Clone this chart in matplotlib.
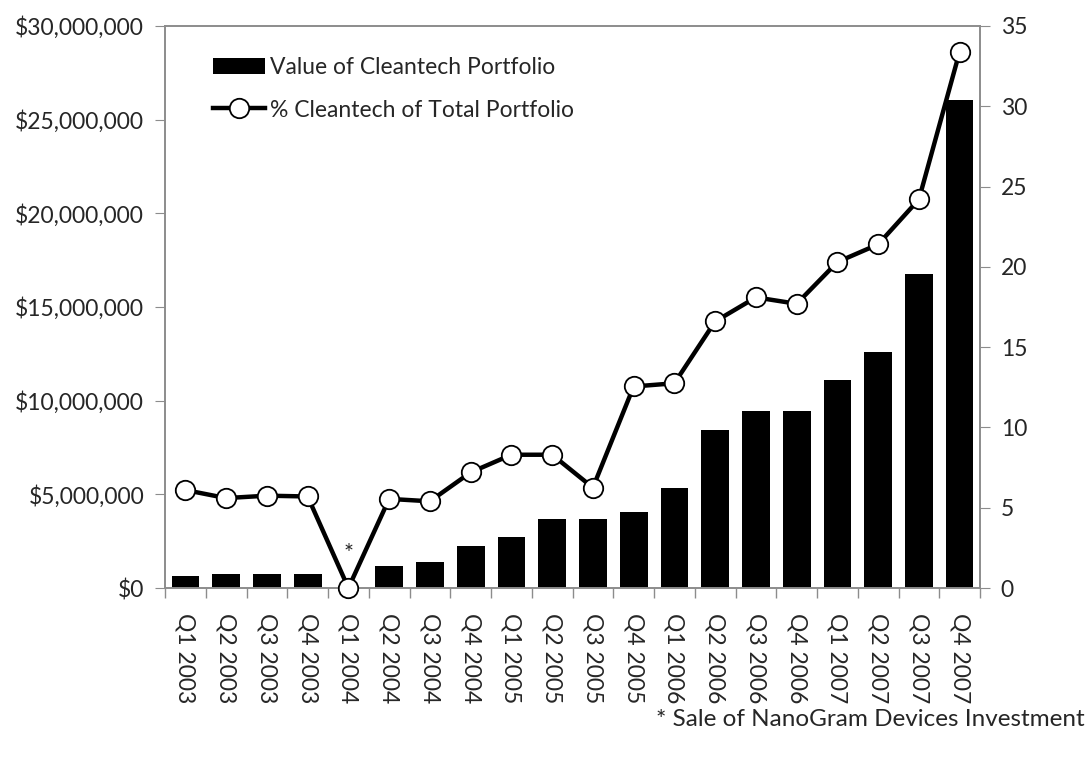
import numpy as np
import matplotlib
matplotlib.use("Agg")
import matplotlib.pyplot as plt
from matplotlib.ticker import FuncFormatter, MultipleLocator

plt.rcParams["font.family"] = ["Lato", "DejaVu Sans"]

quarters = ["Q1 2003", "Q2 2003", "Q3 2003", "Q4 2003",
            "Q1 2004", "Q2 2004", "Q3 2004", "Q4 2004",
            "Q1 2005", "Q2 2005", "Q3 2005", "Q4 2005",
            "Q1 2006", "Q2 2006", "Q3 2006", "Q4 2006",
            "Q1 2007", "Q2 2007", "Q3 2007", "Q4 2007"]
portfolio_value = [650000, 740000, 740000, 740000,
                   0, 1170000, 1380000, 2230000,
                   2700000, 3700000, 3700000, 4080000,
                   5350000, 8430000, 9450000, 9450000,
                   11100000, 12600000, 16750000, 26050000]
pct_cleantech = [6.1, 5.6, 5.75, 5.7,
                 0.0, 5.55, 5.4, 7.2,
                 8.3, 8.3, 6.25, 12.55,
                 12.75, 16.6, 18.1, 17.7,
                 20.3, 21.4, 24.2, 33.4]

GRAY = "#8c8c8c"
TXT = "#262626"
FS = 16.5

fig = plt.figure(figsize=(10.9, 7.6), dpi=100)
ax = fig.add_axes([0.1514, 0.2263, 0.7477, 0.7395])
ax2 = ax.twinx()

x = np.arange(len(quarters))
bars = ax.bar(x, portfolio_value, width=0.68, color="black",
              label="Value of Cleantech Portfolio", zorder=2)
line, = ax2.plot(x, pct_cleantech, color="black", lw=3.2, marker="o",
                 ms=14, mfc="white", mec="black", mew=1.3,
                 label="% Cleantech of Total Portfolio", zorder=3, clip_on=False)

ax.set_xlim(-0.5, len(quarters) - 0.5)
ax.set_ylim(0, 30000000)
ax2.set_ylim(0, 35)
ax.yaxis.set_major_locator(MultipleLocator(5000000))
ax2.yaxis.set_major_locator(MultipleLocator(5))
ax.yaxis.set_major_formatter(FuncFormatter(lambda v, p: "${:,.0f}".format(v)))

ax.set_xticks(x)
ax.set_xticklabels(quarters, rotation=270, fontsize=FS, color=TXT)
ax.set_xticks(np.arange(-0.5, len(quarters)), minor=True)
ax.tick_params(axis="x", which="major", length=0, pad=18)
ax.tick_params(axis="x", which="minor", length=7, color=GRAY, width=1)
ax.tick_params(axis="y", length=7, color=GRAY, labelsize=FS, labelcolor=TXT, pad=8)
ax2.tick_params(axis="y", length=7, color=GRAY, labelsize=FS, labelcolor=TXT, pad=8)

for a in (ax, ax2):
    for s in a.spines.values():
        s.set_color(GRAY)
        s.set_linewidth(1.2)

ax2.set_zorder(ax.get_zorder() + 1)
ax2.patch.set_visible(False)

ax.legend([bars, line], [bars.get_label(), line.get_label()],
          loc="upper left", bbox_to_anchor=(0.033, 0.982), frameon=False,
          fontsize=FS, handlelength=2.3, handletextpad=0.2,
          labelspacing=0.95, labelcolor=TXT)

ax2.annotate("*", xy=(4, pct_cleantech[4]), xytext=(0, 25),
             textcoords="offset points", ha="center", va="center",
             fontsize=17, color=TXT)

fig.text(0.995, 0.053, "* Sale of NanoGram Devices Investment",
         ha="right", va="center", fontsize=17.5, color=TXT)

fig.savefig("out.png", dpi=100)
